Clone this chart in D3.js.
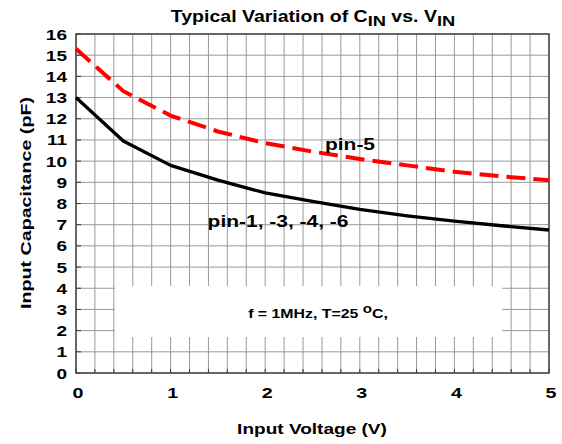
<!DOCTYPE html>
<html><head><meta charset="utf-8">
<script src="https://cdn.jsdelivr.net/npm/d3@7"></script>
<style>body{margin:0;background:#fff}svg{display:block}text{font-family:"Liberation Sans",Arial,sans-serif;font-weight:bold}</style>
</head><body>
<svg id="c" width="562" height="444"></svg>
<script>
const voltage = [0, 0.5, 1, 1.5, 2, 2.5, 3, 3.5, 4, 4.5, 5];
const pin5 = [15.3, 13.3, 12.15, 11.4, 10.85, 10.45, 10.1, 9.8, 9.5, 9.28, 9.1];
const pinOthers = [13, 10.95, 9.8, 9.1, 8.5, 8.1, 7.72, 7.42, 7.17, 6.95, 6.75];
const xTicks = [0, 1, 2, 3, 4, 5];
const yTicks = d3.range(0, 17, 1);
const xGrid = d3.range(0, 5.0001, 0.2);

const svg = d3.select("#c");
const L = 76, R = 549, T = 34, B = 373;
const x = d3.scaleLinear().domain([0, 5]).range([L, R]);
const y = d3.scaleLinear().domain([0, 16]).range([B, T]);
const SX = 1.27;

// grid
svg.append("g").selectAll("line").data(xGrid).join("line")
  .attr("x1", d => x(d)).attr("x2", d => x(d)).attr("y1", T).attr("y2", B)
  .attr("stroke", "#999").attr("stroke-width", 1);
svg.append("g").selectAll("line").data(yTicks).join("line")
  .attr("x1", L).attr("x2", R).attr("y1", d => y(d)).attr("y2", d => y(d))
  .attr("stroke", "#999").attr("stroke-width", 1);

// annotation box
svg.append("rect").attr("x", 115).attr("y", 286).attr("width", 387).attr("height", 51).attr("fill", "#fff");

// inner ticks
svg.append("g").selectAll("line").data(yTicks).join("line")
  .attr("x1", L).attr("x2", L + 5).attr("y1", d => y(d)).attr("y2", d => y(d))
  .attr("stroke", "#333").attr("stroke-width", 1);
svg.append("g").selectAll("line").data(xGrid).join("line")
  .attr("x1", d => x(d)).attr("x2", d => x(d)).attr("y1", B).attr("y2", B - 4)
  .attr("stroke", "#333").attr("stroke-width", 1);

// frame
svg.append("rect").attr("x", L).attr("y", T).attr("width", R - L).attr("height", B - T)
  .attr("fill", "none").attr("stroke", "#444").attr("stroke-width", 1.5);

// lines
const line = d3.line().x((d, i) => x(voltage[i])).y(d => y(d));
svg.append("path").attr("d", line(pinOthers)).attr("fill", "none")
  .attr("stroke", "#000").attr("stroke-width", 3.3).attr("stroke-linejoin", "round");
svg.append("path").attr("d", line(pin5)).attr("fill", "none")
  .attr("stroke", "#ff0000").attr("stroke-width", 4).attr("stroke-dasharray", "19,8");

function txt(t, px, py, size, anchor, extra) {
  return svg.append("text").attr("transform", `translate(${px},${py})${extra || ""} scale(${SX},1)`)
    .attr("font-size", size).attr("text-anchor", anchor).attr("fill", "#000").text(t);
}

// tick labels
yTicks.forEach(d => txt(d, 67, y(d) + 5.5, 15, "end"));
xTicks.forEach(d => txt(d, x(d) + 2, 398, 15.5, "middle"));

// axis titles
txt("Input Voltage (V)", 312, 434, 15, "middle");
txt("Input Capacitance (pF)", 31, 203, 15.5, "middle", " rotate(-90)");

// title
const title = svg.append("text").attr("transform", `translate(313,22) scale(1.22,1)`)
  .attr("font-size", 16).attr("text-anchor", "middle");
title.append("tspan").text("Typical Variation of C");
title.append("tspan").attr("dy", 4).attr("font-size", 15).text("IN");
title.append("tspan").attr("dy", -4).text(" vs. V");
title.append("tspan").attr("dy", 4).attr("font-size", 15).text("IN");

// labels
txt("pin-5", 350, 150, 16.5, "middle");
txt("pin-1, -3, -4, -6", 278, 227, 16.5, "middle");

const ann = svg.append("text").attr("transform", `translate(318,318) scale(${SX},1)`)
  .attr("font-size", 12.5).attr("text-anchor", "middle");
ann.append("tspan").text("f = 1MHz, T=25 ");
ann.append("tspan").attr("dy", -5).attr("font-size", 12).text("o");
ann.append("tspan").attr("dy", 5).text("C,");
</script>
</body></html>
